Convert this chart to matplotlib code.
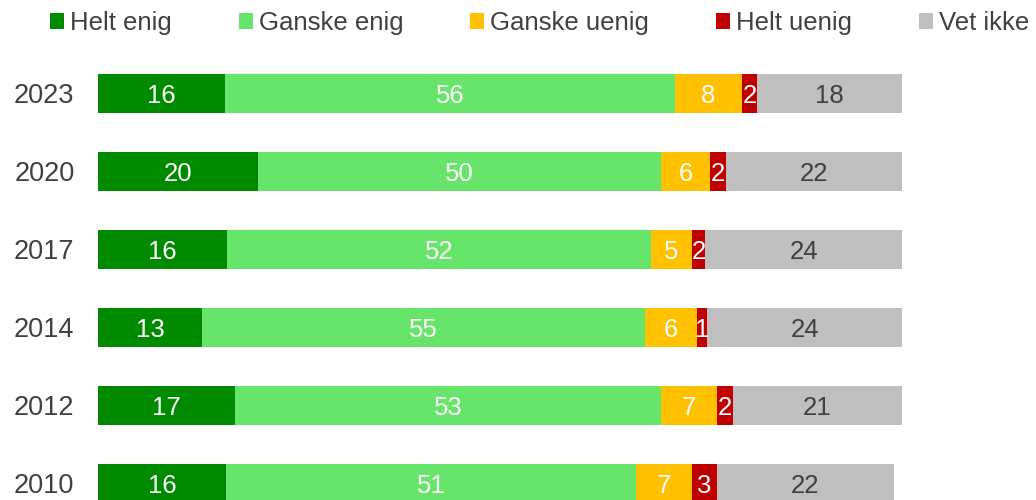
import matplotlib.pyplot as plt
from matplotlib.patches import Patch
import numpy as np

plt.rcParams['font.family'] = ['Liberation Sans', 'DejaVu Sans']

years = ['2023', '2020', '2017', '2014', '2012', '2010']
categories = ['Helt enig', 'Ganske enig', 'Ganske uenig', 'Helt uenig', 'Vet ikke']

# shares (percent, as drawn)
helt_enig = [15.8, 19.9, 16.1, 12.9, 17.0, 15.9]
ganske_enig = [55.9, 50.1, 52.6, 55.1, 53.0, 51.0]
ganske_uenig = [8.4, 6.1, 5.2, 6.5, 7.0, 7.0]
helt_uenig = [1.8, 2.0, 1.6, 1.2, 1.9, 3.0]
vet_ikke = [18.1, 21.9, 24.5, 24.3, 21.1, 22.1]

# printed labels
helt_enig_lbl = [16, 20, 16, 13, 17, 16]
ganske_enig_lbl = [56, 50, 52, 55, 53, 51]
ganske_uenig_lbl = [8, 6, 5, 6, 7, 7]
helt_uenig_lbl = [2, 2, 2, 1, 2, 3]
vet_ikke_lbl = [18, 22, 24, 24, 21, 22]

series = [helt_enig, ganske_enig, ganske_uenig, helt_uenig, vet_ikke]
labels = [helt_enig_lbl, ganske_enig_lbl, ganske_uenig_lbl, helt_uenig_lbl, vet_ikke_lbl]
colors = ['#008A00', '#66E56A', '#FFC000', '#C00000', '#BFBFBF']
text_colors = ['white', 'white', 'white', 'white', '#404040']

fig = plt.figure(figsize=(10.36, 5), dpi=100)
ax = fig.add_axes([98 / 1036, 0, 804.3 / 1036, 1])

y = np.arange(len(years))
left = np.zeros(len(years))
for vals, lbls, col, tcol in zip(series, labels, colors, text_colors):
    vals = np.array(vals)
    ax.barh(y, vals, left=left, height=0.5, color=col, edgecolor='none')
    for yi, x0, w, lb in zip(y, left, vals, lbls):
        ax.text(x0 + w / 2, yi, str(lb), ha='center', va='center_baseline',
                color=tcol, fontsize=18.5)
    left += vals

ax.set_xlim(0, 100)
ax.set_ylim(5 + 16.5 / 78, -93 / 78)
ax.set_yticks(y)
ax.set_yticklabels(years, fontsize=19.5, color='#404040')
ax.tick_params(axis='y', length=0, pad=17)
ax.set_xticks([])
for s in ax.spines.values():
    s.set_visible(False)

handles = [Patch(facecolor=c, edgecolor='none') for c in colors]
fig.legend(handles, categories, loc='center left', bbox_to_anchor=(50 / 1036, 1 - 23 / 500),
           ncol=5, frameon=False, fontsize=18.5, labelcolor='#404040',
           handlelength=0.55, handleheight=0.55, handletextpad=0.23,
           columnspacing=2.6, borderpad=0, borderaxespad=0)

fig.savefig('out.png', dpi=100)
